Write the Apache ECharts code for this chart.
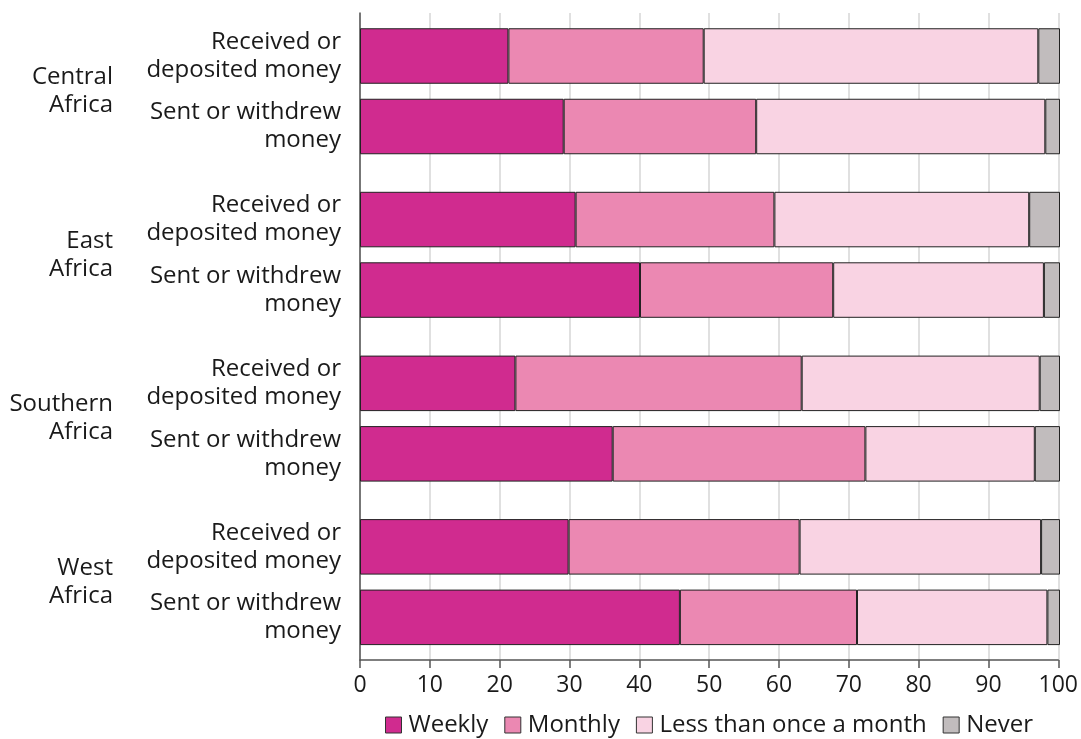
<!DOCTYPE html>
<html>
<head>
<meta charset="utf-8">
<script src="https://cdn.jsdelivr.net/npm/echarts@6/dist/echarts.min.js"></script>
<style>html,body{margin:0;padding:0;background:#fff}#c{width:1081px;height:739px}</style>
</head>
<body>
<div id="c"></div>
<script>
const regions = ['Central\nAfrica', 'East\nAfrica', 'Southern\nAfrica', 'West\nAfrica'];
const categories = ['Received or\ndeposited money', 'Sent or withdrew\nmoney'];
const seriesNames = ['Weekly', 'Monthly', 'Less than once a month', 'Never'];
// rows: Central R, Central S, East R, East S, Southern R, Southern S, West R, West S
const weekly  = [21.2, 29.1, 30.8, 40.0, 22.2, 36.1, 29.8, 45.7];
const monthly = [27.9, 27.5, 28.4, 27.6, 40.9, 36.1, 33.0, 25.3];
const lessThanMonthly = [47.8, 41.3, 36.4, 30.1, 34.0, 24.2, 34.5, 27.2];
const never   = [3.1, 2.1, 4.4, 2.3, 2.9, 3.6, 2.7, 1.8];
const xTicks = [0, 10, 20, 30, 40, 50, 60, 70, 80, 90, 100];

const colors = ['#d02b8f', '#eb88b2', '#f9d3e3', '#c1bcbd'];
const valueSets = [weekly, monthly, lessThanMonthly, never];
const textColor = '#1a1a1a';
const font = 'Open Sans';

const gridTops = [20.75, 184.3, 348.1, 511.6];
const grid = [], xAxis = [], yAxis = [], series = [];
grid.push({left: 360, width: 700, top: 13, height: 647});
xAxis.push({
  gridIndex: 0, type: 'value', min: xTicks[0], max: xTicks[xTicks.length - 1], interval: 10,
  axisLine: {show: true, lineStyle: {color: '#555', width: 1.5}},
  axisTick: {show: true, length: 8, lineStyle: {color: '#555', width: 1.5}},
  axisLabel: {color: textColor, fontSize: 23, fontFamily: font, margin: 14},
  splitLine: {show: true, lineStyle: {color: '#d6d6d6', width: 1.5}}
});
yAxis.push({
  gridIndex: 0, type: 'value', min: 0, max: 1,
  axisLine: {show: true, lineStyle: {color: '#555', width: 1.5}},
  axisTick: {show: false}, axisLabel: {show: false}, splitLine: {show: false}
});
regions.forEach((r, g) => {
  const gi = g + 1;
  grid.push({left: 360, width: 700, top: gridTops[g], height: 141});
  xAxis.push({gridIndex: gi, type: 'value', min: 0, max: 100, show: false});
  yAxis.push({
    gridIndex: gi, type: 'category', inverse: true, data: categories,
    axisLine: {show: false}, axisTick: {show: false}, splitLine: {show: false},
    axisLabel: {color: textColor, fontSize: 24, fontFamily: font, margin: 19, lineHeight: 28, align: 'right'}
  });
  yAxis.push({
    gridIndex: gi, type: 'category', data: [r], position: 'left', offset: 247,
    axisLine: {show: false}, axisTick: {show: false}, splitLine: {show: false},
    axisLabel: {color: textColor, fontSize: 24, fontFamily: font, margin: 0, lineHeight: 28, align: 'right'}
  });
  const yIdx = 1 + g * 2;
  seriesNames.forEach((name, s) => {
    series.push({
      name: name, type: 'bar', stack: 'g' + g, xAxisIndex: gi, yAxisIndex: yIdx,
      barWidth: 55.5,
      itemStyle: {color: colors[s], borderColor: '#222', borderWidth: 1},
      emphasis: {disabled: true},
      data: [valueSets[s][g * 2], valueSets[s][g * 2 + 1]]
    });
  });
});

const chart = echarts.init(document.getElementById('c'), null, {renderer: 'canvas'});
chart.setOption({
  animation: false,
  grid: grid, xAxis: xAxis, yAxis: yAxis, series: series,
  legend: {
    data: seriesNames, left: 380, top: 708, itemWidth: 16, itemHeight: 16, itemGap: 16,
    icon: 'rect', selectedMode: false,
    itemStyle: {borderColor: '#333', borderWidth: 1},
    textStyle: {color: textColor, fontSize: 24, fontFamily: font, padding: [0, 0, 0, 2]}
  }
});
</script>
</body>
</html>
